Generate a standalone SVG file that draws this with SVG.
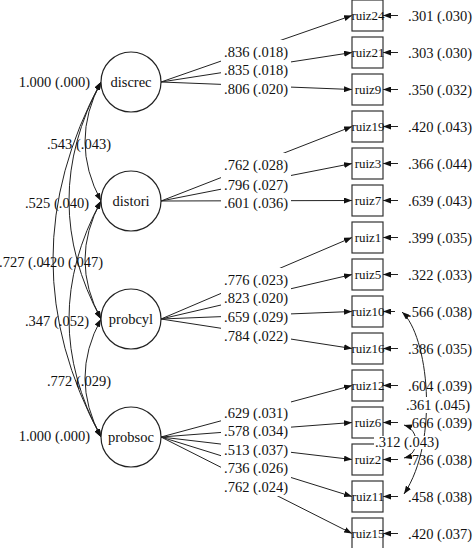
<svg xmlns="http://www.w3.org/2000/svg" width="474" height="548" viewBox="0 0 474 548">
<defs>
<marker id="ah" markerWidth="8" markerHeight="6" refX="8" refY="3" orient="auto-start-reverse" markerUnits="userSpaceOnUse"><path d="M0,0 L8,3 L0,6 z" fill="#111"/></marker>
<style>
.t{font-family:"Liberation Serif","Times New Roman",serif;font-size:14.5px;fill:#111}
.bl{font-size:13px;text-anchor:middle}
.ln{stroke:#222;stroke-width:1;fill:none}
.box{fill:none;stroke:#333;stroke-width:1.2}
.lat{fill:#fff;stroke:#222;stroke-width:1.2}
.bg{fill:#fff}
</style>
</defs>
<rect width="474" height="548" fill="#fff"/>

<g id="connectors">
<g class="ln" marker-start="url(#ah)" marker-end="url(#ah)">
<path d="M101,82 Q69,141.5 101,201"/>
<path d="M101,82 Q37,200.5 101,319"/>
<path d="M101,82 Q5,259.5 101,437"/>
<path d="M101,201 Q69,260 101,319"/>
<path d="M101,201 Q37,319 101,437"/>
<path d="M101,319 Q69,378 101,437"/>
<path d="M402,312 C428,335 440,440 404,494"/>
<path d="M404,425 C420,430 420,454 404,458"/>
</g>
<g class="ln" marker-end="url(#ah)">
<line x1="161" y1="82" x2="352" y2="15.5"/>
<line x1="161" y1="82" x2="352" y2="52.5"/>
<line x1="161" y1="82" x2="352" y2="89.5"/>
<line x1="161" y1="201" x2="352" y2="126.5"/>
<line x1="161" y1="201" x2="352" y2="163.5"/>
<line x1="161" y1="201" x2="352" y2="200.5"/>
<line x1="161" y1="319" x2="352" y2="237.5"/>
<line x1="161" y1="319" x2="352" y2="274.5"/>
<line x1="161" y1="319" x2="352" y2="311.5"/>
<line x1="161" y1="319" x2="352" y2="348.5"/>
<line x1="161" y1="437" x2="352" y2="385.5"/>
<line x1="161" y1="437" x2="352" y2="422.5"/>
<line x1="161" y1="437" x2="352" y2="459.5"/>
<line x1="161" y1="437" x2="352" y2="496.5"/>
<line x1="161" y1="437" x2="352" y2="533.5"/>
<line x1="398" y1="15.5" x2="383" y2="15.5"/>
<line x1="398" y1="52.5" x2="383" y2="52.5"/>
<line x1="398" y1="89.5" x2="383" y2="89.5"/>
<line x1="398" y1="126.5" x2="383" y2="126.5"/>
<line x1="398" y1="163.5" x2="383" y2="163.5"/>
<line x1="398" y1="200.5" x2="383" y2="200.5"/>
<line x1="398" y1="237.5" x2="383" y2="237.5"/>
<line x1="398" y1="274.5" x2="383" y2="274.5"/>
<line x1="395" y1="311.5" x2="383" y2="311.5"/>
<line x1="398" y1="348.5" x2="383" y2="348.5"/>
<line x1="398" y1="385.5" x2="383" y2="385.5"/>
<line x1="398" y1="422.5" x2="383" y2="422.5"/>
<line x1="398" y1="459.5" x2="383" y2="459.5"/>
<line x1="398" y1="496.5" x2="383" y2="496.5"/>
<line x1="398" y1="533.5" x2="383" y2="533.5"/>
</g>
</g>

<g id="discrec"><circle class="lat" cx="131" cy="82" r="30"/><text class="t" x="131" y="87" text-anchor="middle">discrec</text></g>
<g id="distori"><circle class="lat" cx="131" cy="201" r="30"/><text class="t" x="131" y="206" text-anchor="middle">distori</text></g>
<g id="probcyl"><circle class="lat" cx="131" cy="319" r="30"/><text class="t" x="131" y="324" text-anchor="middle">probcyl</text></g>
<g id="probsoc"><circle class="lat" cx="131" cy="437" r="30"/><text class="t" x="131" y="442" text-anchor="middle">probsoc</text></g>

<g id="ruiz24"><rect class="box" x="352" y="0" width="31" height="31"/><text class="t bl" x="368" y="20">ruiz24</text></g>
<g id="ruiz21"><rect class="box" x="352" y="37" width="31" height="31"/><text class="t bl" x="368" y="57">ruiz21</text></g>
<g id="ruiz9"><rect class="box" x="352" y="74" width="31" height="31"/><text class="t bl" x="368" y="94">ruiz9</text></g>
<g id="ruiz19"><rect class="box" x="352" y="111" width="31" height="31"/><text class="t bl" x="368" y="131">ruiz19</text></g>
<g id="ruiz3"><rect class="box" x="352" y="148" width="31" height="31"/><text class="t bl" x="368" y="168">ruiz3</text></g>
<g id="ruiz7"><rect class="box" x="352" y="185" width="31" height="31"/><text class="t bl" x="368" y="205">ruiz7</text></g>
<g id="ruiz1"><rect class="box" x="352" y="222" width="31" height="31"/><text class="t bl" x="368" y="242">ruiz1</text></g>
<g id="ruiz5"><rect class="box" x="352" y="259" width="31" height="31"/><text class="t bl" x="368" y="279">ruiz5</text></g>
<g id="ruiz10"><rect class="box" x="352" y="296" width="31" height="31"/><text class="t bl" x="368" y="316">ruiz10</text></g>
<g id="ruiz16"><rect class="box" x="352" y="333" width="31" height="31"/><text class="t bl" x="368" y="353">ruiz16</text></g>
<g id="ruiz12"><rect class="box" x="352" y="370" width="31" height="31"/><text class="t bl" x="368" y="390">ruiz12</text></g>
<g id="ruiz6"><rect class="box" x="352" y="407" width="31" height="31"/><text class="t bl" x="368" y="427">ruiz6</text></g>
<g id="ruiz2"><rect class="box" x="352" y="444" width="31" height="31"/><text class="t bl" x="368" y="464">ruiz2</text></g>
<g id="ruiz11"><rect class="box" x="352" y="481" width="31" height="31"/><text class="t bl" x="368" y="501">ruiz11</text></g>
<g id="ruiz15"><rect class="box" x="352" y="518" width="31" height="31"/><text class="t bl" x="368" y="538">ruiz15</text></g>

<g id="loading-labels">
<g class="bg">
<rect x="221" y="40" width="70" height="58"/>
<rect x="221" y="153" width="70" height="59"/>
<rect x="221" y="268" width="70" height="77"/>
<rect x="221" y="401" width="70" height="95"/>
<rect x="404" y="397" width="68" height="16"/>
<rect x="374" y="436" width="68" height="13"/>
</g>
<g class="t">
<text x="224" y="57">.836 (.018)</text>
<text x="224" y="75">.835 (.018)</text>
<text x="224" y="94">.806 (.020)</text>
<text x="224" y="170">.762 (.028)</text>
<text x="224" y="190">.796 (.027)</text>
<text x="224" y="208">.601 (.036)</text>
<text x="224" y="285">.776 (.023)</text>
<text x="224" y="303">.823 (.020)</text>
<text x="224" y="321.5">.659 (.029)</text>
<text x="224" y="340.5">.784 (.022)</text>
<text x="224" y="418">.629 (.031)</text>
<text x="224" y="436">.578 (.034)</text>
<text x="224" y="455">.513 (.037)</text>
<text x="224" y="473">.736 (.026)</text>
<text x="224" y="492">.762 (.024)</text>
<text x="406" y="410">.361 (.045)</text>
<text x="375" y="447">.312 (.043)</text>
</g>
</g>

<g id="error-labels" class="t">
<text x="408" y="20.5">.301 (.030)</text>
<text x="408" y="57.5">.303 (.030)</text>
<text x="408" y="94.5">.350 (.032)</text>
<text x="408" y="131.5">.420 (.043)</text>
<text x="408" y="168.5">.366 (.044)</text>
<text x="408" y="205.5">.639 (.043)</text>
<text x="408" y="242.5">.399 (.035)</text>
<text x="408" y="279.5">.322 (.033)</text>
<text x="408" y="316.5">.566 (.038)</text>
<text x="408" y="353.5">.386 (.035)</text>
<text x="408" y="390.5">.604 (.039)</text>
<text x="408" y="427.5">.666 (.039)</text>
<text x="408" y="464.5">.736 (.038)</text>
<text x="408" y="501.5">.458 (.038)</text>
<text x="408" y="538.5">.420 (.037)</text>
</g>

<g id="factor-labels" class="t">
<text x="90" y="87" text-anchor="end">1.000 (.000)</text>
<text x="111" y="149" text-anchor="end">.543 (.043)</text>
<text x="89" y="208" text-anchor="end">.525 (.040)</text>
<text x="-1" y="267">.727 (.0</text>
<text x="39" y="267">.420 (.047)</text>
<text x="89" y="325.5" text-anchor="end">.347 (.052)</text>
<text x="111" y="386" text-anchor="end">.772 (.029)</text>
<text x="90" y="441" text-anchor="end">1.000 (.000)</text>
</g>
</svg>
